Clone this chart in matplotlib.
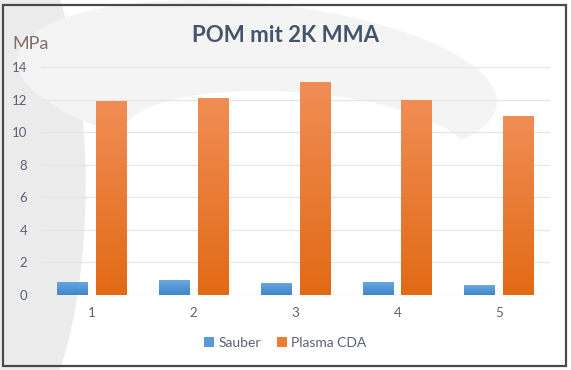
import numpy as np
import matplotlib
matplotlib.use("Agg")
import matplotlib.pyplot as plt
from matplotlib.patches import Ellipse, Rectangle
from matplotlib.colors import LinearSegmentedColormap

# Data
categories = ["1", "2", "3", "4", "5"]
sauber = [0.81, 0.91, 0.75, 0.81, 0.61]
plasma_cda = [11.9, 12.1, 13.05, 12.0, 11.0]
series_names = ["Sauber", "Plasma CDA"]

plt.rcParams['font.family'] = ['Lato', 'DejaVu Sans']

fig = plt.figure(figsize=(5.71, 3.70), dpi=100)
fig.patch.set_facecolor("white")

# faint grey swoosh in the background (slide watermark)
bg = fig.add_axes([0, 0, 1, 1], zorder=0)
bg.set_xlim(0, 1); bg.set_ylim(0, 1); bg.axis("off")
bg.add_patch(Ellipse((0.0, 0.5), 0.30, 1.4, color="#ececec", lw=0))
bg.add_patch(Ellipse((0.45, 0.78), 0.85, 0.42, angle=-10, color="#f4f4f4", lw=0))
bg.add_patch(Ellipse((0.52, 0.60), 0.62, 0.30, angle=-8, color="white", lw=0))
# outer frame
bg.add_patch(Rectangle((0.006, 0.011), 0.986, 0.976, fill=False, ec="#4a4a4a", lw=1.6))

ax = fig.add_axes([0.072, 0.203, 0.891, 0.616], zorder=1)
ax.patch.set_alpha(0)

x = np.arange(len(categories))
w = 0.30
b1 = ax.bar(x - 0.19, sauber, w, color="#5B9BD5", zorder=2)
b2 = ax.bar(x + 0.19, plasma_cda, w, color="#ED7D31", zorder=2)

# vertical gradient fill, like the Excel bars
def grad(bars, top, bottom):
    cmap = LinearSegmentedColormap.from_list("g", [bottom, top])
    for r in bars:
        x0, y0 = r.get_x(), r.get_y()
        img = ax.imshow(np.linspace(0, 1, 100).reshape(-1, 1), cmap=cmap, aspect="auto",
                        origin="lower", extent=[x0, x0 + r.get_width(), y0, y0 + r.get_height()],
                        zorder=2.5)
        img.set_clip_path(r)

grad(b1, "#6AA8E0", "#3F86C9")
grad(b2, "#F08D55", "#E26A15")

ax.set_xlim(-0.5, 4.5)
ax.set_ylim(0, 14)
ax.set_yticks(range(0, 15, 2))
ax.set_xticks(x)
ax.set_xticklabels(categories)
ax.tick_params(length=0, labelsize=9.5, colors="#5a6272")
ax.tick_params(axis="y", pad=10)
ax.tick_params(axis="x", pad=9)
ax.grid(axis="y", color="#e3e6ec", lw=1, zorder=0)
for s in ax.spines.values():
    s.set_visible(False)

fig.text(0.50, 0.903, "POM mit 2K MMA", ha="center", va="center",
         fontsize=16, fontweight="bold", color="#44546A")
fig.text(0.022, 0.88, "MPa", ha="left", va="center", fontsize=13, color="#7f6f65")

leg = fig.legend([b1, b2], series_names, loc="center", bbox_to_anchor=(0.5, 0.073),
                 ncol=2, frameon=False, fontsize=10, handlelength=0.7, handleheight=0.7,
                 handletextpad=0.3, columnspacing=1.2)
for t in leg.get_texts():
    t.set_color("#5a6272")

fig.savefig("out.png", dpi=100)
